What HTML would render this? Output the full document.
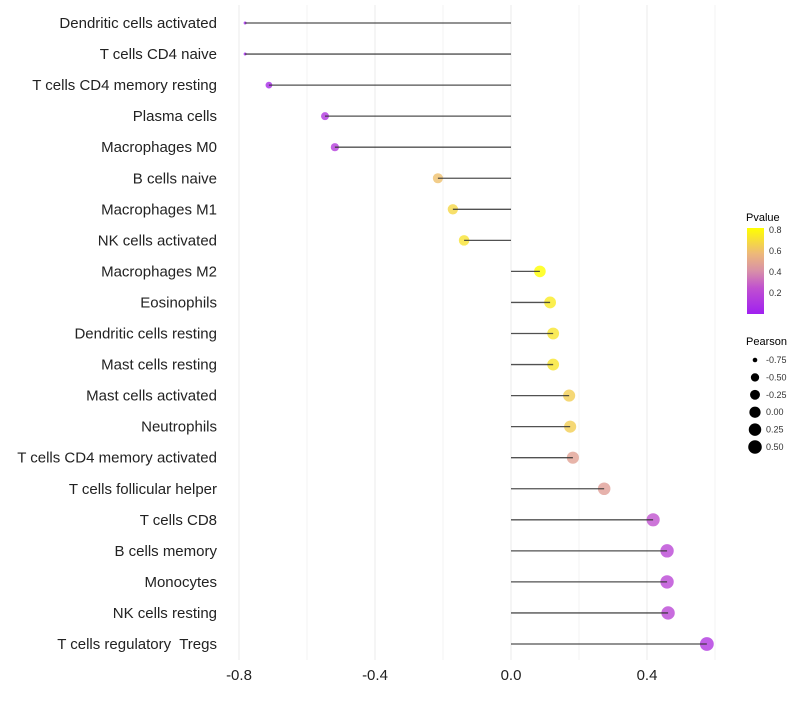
<!DOCTYPE html>
<html><head><meta charset="utf-8"><style>
body{margin:0;background:#fff}
svg{font-family:"Liberation Sans",sans-serif}
text{white-space:pre}
</style></head><body>
<svg id="c" width="800" height="700">
<defs><linearGradient id="pg" x1="0" y1="1" x2="0" y2="0">
<stop offset="0" stop-color="#A020F0"/><stop offset="0.3" stop-color="#C050D0"/><stop offset="0.5" stop-color="#D890A8"/><stop offset="0.7" stop-color="#EDB87A"/><stop offset="1" stop-color="#FFFF00"/></linearGradient></defs>
<g id="grid"></g><g id="pts"></g><g id="segs"></g><g id="lab"></g>
<g>
<text x="746" y="221" font-size="11">Pvalue</text>
<rect x="747" y="228" width="17" height="86" fill="url(#pg)"/>
<g font-size="9" fill="#333"><text x="769" y="233">0.8</text><text x="769" y="254">0.6</text><text x="769" y="275">0.4</text><text x="769" y="296">0.2</text></g>
</g>
<g id="pl"><text x="746" y="345" font-size="11">Pearson</text></g>
</svg>
<script>
const categories=["Dendritic cells activated","T cells CD4 naive","T cells CD4 memory resting","Plasma cells","Macrophages M0","B cells naive","Macrophages M1","NK cells activated","Macrophages M2","Eosinophils","Dendritic cells resting","Mast cells resting","Mast cells activated","Neutrophils","T cells CD4 memory activated","T cells follicular helper","T cells CD8","B cells memory","Monocytes","NK cells resting","T cells regulatory  Tregs"];
const pearson=[-0.782,-0.782,-0.712,-0.547,-0.518,-0.215,-0.171,-0.138,0.085,0.115,0.124,0.124,0.171,0.174,0.182,0.274,0.418,0.459,0.459,0.462,0.576];
const pvalue=[0.02,0.02,0.05,0.12,0.15,0.6,0.68,0.72,0.83,0.75,0.73,0.73,0.65,0.65,0.48,0.47,0.25,0.2,0.2,0.2,0.12];
const xTicks=[-0.8,-0.4,0.0,0.4];
const sizeLegend=[-0.75,-0.5,-0.25,0,0.25,0.5];
const NS="http://www.w3.org/2000/svg";
const X=v=>511+v*340, Y=i=>23+i*31.05;
function R(v){let a;if(v<-0.712)a=2.25+(v+0.782)/0.07*6.75;else a=16+28.5*(v+0.547);return Math.sqrt(Math.max(2,a));}
const stops=[[0,[160,32,240]],[0.3,[192,80,208]],[0.5,[216,144,168]],[0.7,[237,184,122]],[1,[255,255,0]]];
function col(p){let t=Math.max(0,Math.min(1,p/0.82));for(let k=1;k<stops.length;k++){if(t<=stops[k][0]){const a=stops[k-1],b=stops[k],f=(t-a[0])/(b[0]-a[0]);return`rgb(${a[1].map((c,j)=>Math.round(c+(b[1][j]-c)*f)).join(",")})`}}return"rgb(255,255,0)"}
function mk(tag,at,par){const e=document.createElementNS(NS,tag);for(const k in at)e.setAttribute(k,at[k]);document.getElementById(par).appendChild(e);return e}
for(let v=-0.8;v<=0.61;v+=0.2){const g=mk("line",{x1:X(v),x2:X(v),y1:5,y2:660,stroke:"#ebebeb","stroke-width":Math.abs(Math.round(v*10))%4==0?1:0.6},"grid");}
xTicks.forEach(v=>{const t=mk("text",{x:X(v),y:680,"font-size":15,"text-anchor":"middle",fill:"#222"},"lab");t.textContent=v.toFixed(1);});
categories.forEach((c,i)=>{
const t=mk("text",{x:217,y:Y(i)+5,"font-size":15,"text-anchor":"end",fill:"#222"},"lab");t.textContent=c;

const p=mk("circle",{cx:X(pearson[i]),cy:Y(i),r:R(pearson[i]),fill:col(pvalue[i]),"fill-opacity":0.8},"pts");

const s=mk("line",{x1:X(0),x2:X(pearson[i]),y1:Y(i),y2:Y(i),stroke:"#333","stroke-width":1.3,"stroke-opacity":0.85},"segs");

});
sizeLegend.forEach((v,k)=>{const y=360+k*17.4;
const c=mk("circle",{cx:755,cy:y,r:R(v),fill:"#000"},"pl");
const t=mk("text",{x:766,y:y+3,"font-size":9,fill:"#333"},"pl");t.textContent=v.toFixed(2);});
</script>
</body></html>
